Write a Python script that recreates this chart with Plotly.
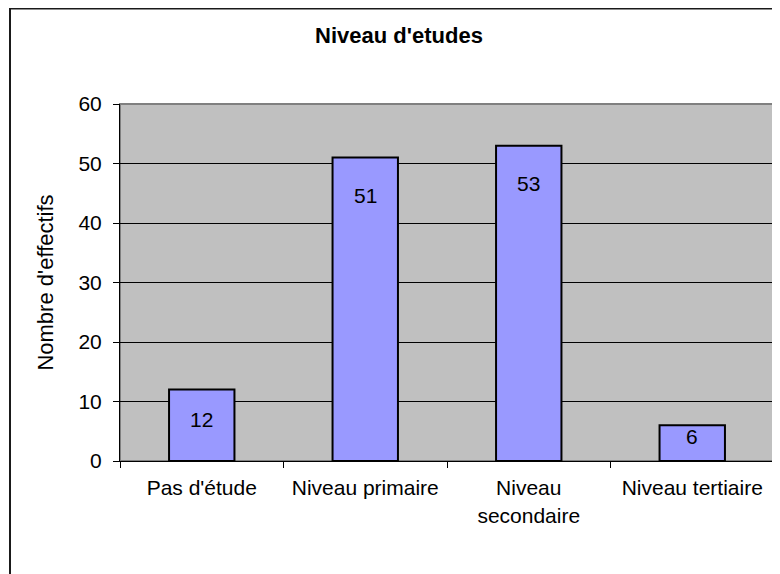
import plotly.graph_objects as go

# Données
categories = ["Pas d'étude", "Niveau primaire", "Niveau secondaire", "Niveau tertiaire"]
tick_labels = ["Pas d'étude", "Niveau primaire", "Niveau<br>secondaire", "Niveau tertiaire"]
effectifs = [12, 51, 53, 6]
y_ticks = [0, 10, 20, 30, 40, 50, 60]

FONT = "Liberation Sans, Arial, sans-serif"

# marges du cadre (px) -- la page ajoute 8px de marge au body
L, R, T, B = 112, 14, 96, 121
W, H = 780, 574
pw, ph = W - L - R, H - T - B

fig = go.Figure()
fig.add_trace(go.Bar(
    x=categories,
    y=effectifs,
    width=0.40,
    marker=dict(color="#9999FF", line=dict(color="black", width=2)),
    hoverinfo="x+y",
))

# Étiquettes de valeurs, à l'intérieur vers le haut de la barre
for cat, v in zip(categories, effectifs):
    shift = -11 if v < 10 else (-30 if v < 20 else -38)
    fig.add_annotation(x=cat, y=v, text=str(v), showarrow=False,
                       yanchor="middle", yshift=shift,
                       font=dict(family=FONT, size=21, color="black"))

# Bordure grise du fond de graphique
fig.add_shape(type="rect", xref="paper", yref="paper",
              x0=0, x1=1, y0=0, y1=1,
              line=dict(color="#808080", width=2), layer="below")

# Cadre extérieur
fig.add_shape(type="rect", xref="paper", yref="paper",
              x0=(2 - L) / pw, x1=1.2,
              y0=-0.6, y1=(H - B - 0.5) / ph,
              line=dict(color="#1a1a1a", width=2))

fig.update_xaxes(
    type="category",
    tickvals=categories,
    ticktext=tick_labels,
    tickson="boundaries",
    ticks="outside", ticklen=6, tickcolor="black",
    ticklabelstandoff=8,
    showline=True, linecolor="black", linewidth=1,
    showgrid=False,
    tickfont=dict(family=FONT, size=21, color="black"),
)
fig.update_yaxes(
    range=[0, 60],
    tickvals=y_ticks,
    ticks="outside", ticklen=6, tickcolor="black",
    ticklabelstandoff=7,
    showline=True, linecolor="black", linewidth=1,
    showgrid=True, gridcolor="black", gridwidth=1,
    zeroline=False,
    tickfont=dict(family=FONT, size=21, color="black"),
    title=dict(text="Nombre d'effectifs", standoff=18,
               font=dict(family=FONT, size=22, color="black")),
)

fig.update_layout(
    width=W, height=H,
    title=dict(text="<b>Niveau d'etudes</b>", x=391 / W, xanchor="center",
               y=1 - 27 / H, yanchor="middle",
               font=dict(family=FONT, size=22, color="black")),
    plot_bgcolor="#C0C0C0",
    paper_bgcolor="white",
    showlegend=False,
    margin=dict(l=L, r=R, t=T, b=B),
)

fig.write_html("out.html")
